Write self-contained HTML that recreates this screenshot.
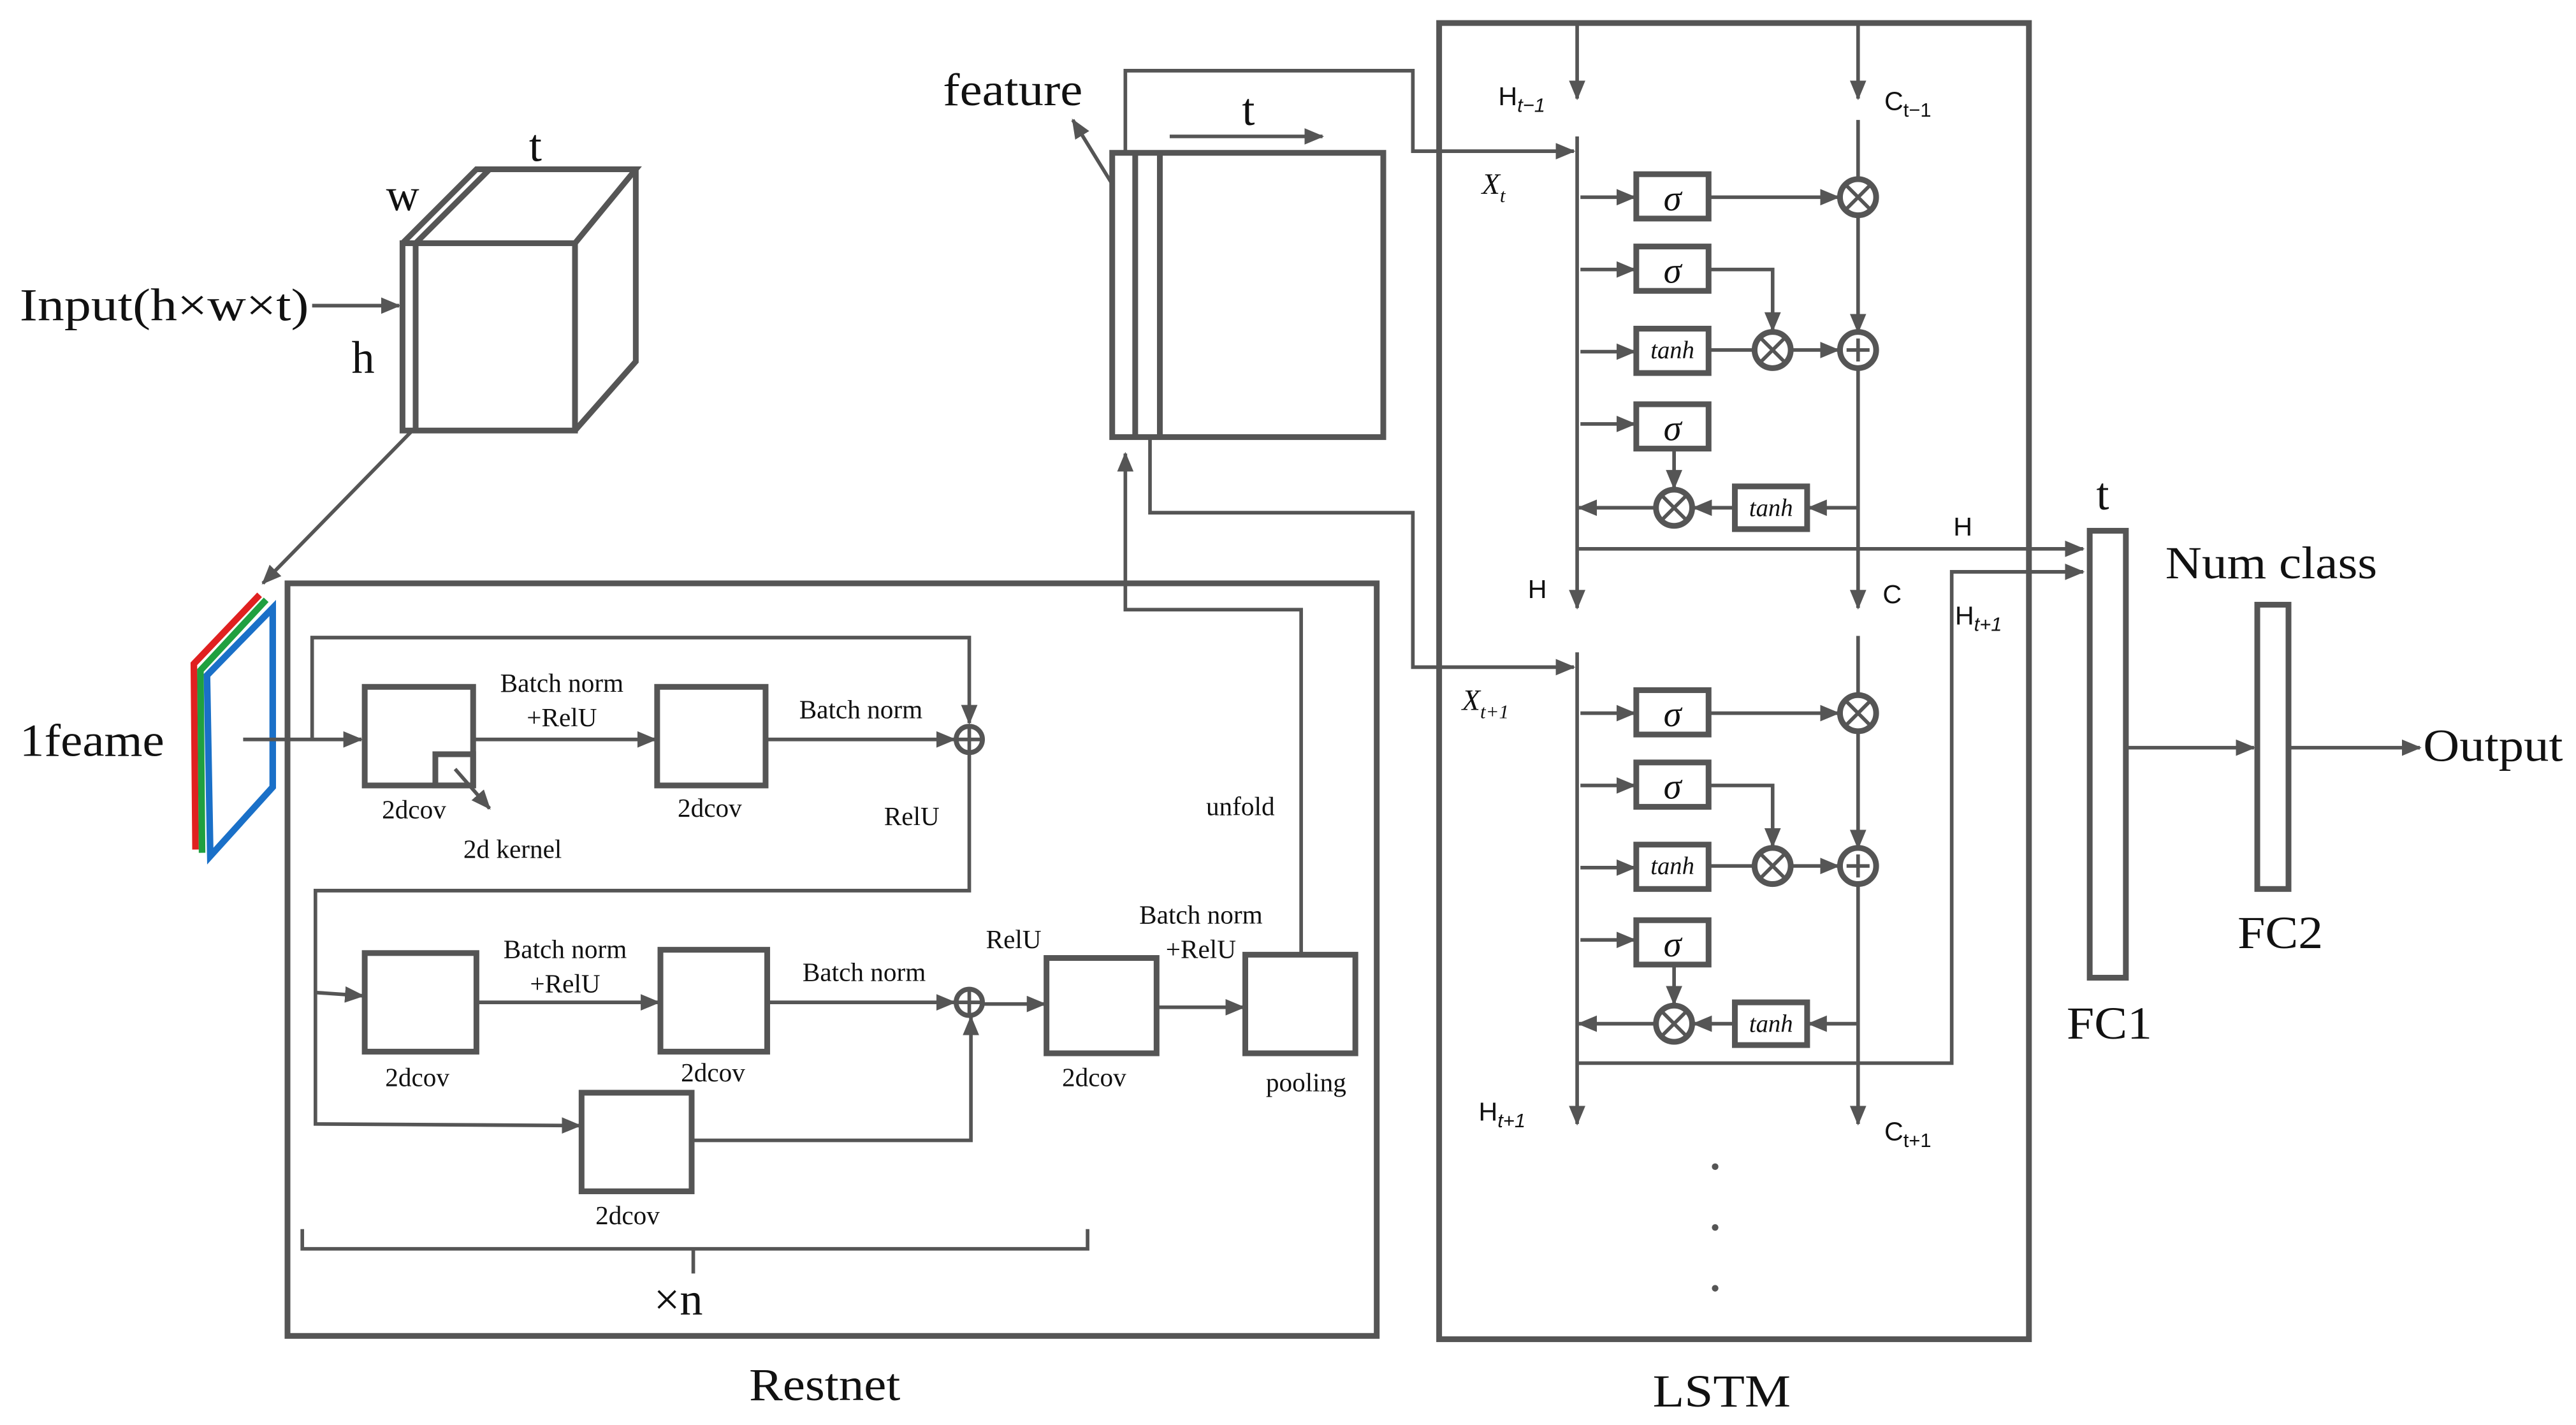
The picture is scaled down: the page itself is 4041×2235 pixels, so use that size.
<!DOCTYPE html>
<html><head><meta charset="utf-8"><style>
html,body{margin:0;padding:0;background:#fff;}
svg{display:block;}
text{font-family:"Liberation Serif",serif;fill:#111;}
.s{font-family:"Liberation Sans",sans-serif;}
</style></head><body>
<svg width="4041" height="2235" viewBox="0 0 1568 867.2" xmlns="http://www.w3.org/2000/svg">
<defs>
<marker id="a" markerWidth="12" markerHeight="10" refX="11" refY="5" orient="auto" markerUnits="userSpaceOnUse">
<path d="M0,0 L12,5 L0,10 Z" fill="#555"/></marker>
</defs>
<g fill="none" stroke="#555" stroke-width="2.2">
<line x1="190" y1="186" x2="243" y2="186" marker-end="url(#a)"/>
<g stroke-width="3.5">
<rect x="245" y="148" width="105" height="114"/>
<line x1="253" y1="148" x2="253" y2="262"/>
<polyline points="245,148 290,103 387,103 350,148"/>
<line x1="253" y1="148" x2="298" y2="103"/>
<polyline points="387,103 387,220 350,262"/>
</g>
<line x1="250" y1="263" x2="160" y2="355" marker-end="url(#a)"/>
<polyline points="119,517 118,404 158,362" stroke="#e02020" stroke-width="4"/>
<polyline points="123,519 122,408 162,365" stroke="#20a040" stroke-width="4"/>
<polygon points="126,411 166,370 166,479 128,521" stroke="#1a70c8" stroke-width="4"/>
<line x1="148" y1="450" x2="220" y2="450" marker-end="url(#a)"/>
<rect x="175" y="355" width="663" height="458" stroke-width="3.5"/>
<polyline points="190,450 190,388 590,388 590,440" marker-end="url(#a)"/>
<g stroke-width="3.5">
<rect x="222" y="418" width="66" height="60"/>
<rect x="265" y="459" width="23" height="19"/>
<rect x="400" y="418" width="66" height="60"/>
<rect x="222" y="580" width="68" height="60"/>
<rect x="402" y="578" width="65" height="62"/>
<rect x="637" y="583" width="67" height="58"/>
<rect x="758" y="581" width="67" height="60"/>
<rect x="354" y="665" width="67" height="60"/>
</g>
<line x1="277" y1="468" x2="298" y2="492" marker-end="url(#a)"/>
<line x1="288" y1="450" x2="399" y2="450" marker-end="url(#a)"/>
<line x1="466" y1="450" x2="581" y2="450" marker-end="url(#a)"/>
<circle cx="590" cy="450" r="8" stroke-width="3"/>
<line x1="583" y1="450" x2="597" y2="450"/><line x1="590" y1="443" x2="590" y2="457"/>
<polyline points="590,458 590,542 192,542 192,684 353,685" marker-end="url(#a)"/>
<line x1="192" y1="604" x2="221" y2="606" marker-end="url(#a)"/>
<line x1="290" y1="610" x2="401" y2="610" marker-end="url(#a)"/>
<line x1="467" y1="610" x2="581" y2="610" marker-end="url(#a)"/>
<circle cx="590" cy="610" r="8" stroke-width="3"/>
<line x1="583" y1="610" x2="597" y2="610"/><line x1="590" y1="603" x2="590" y2="617"/>
<polyline points="421,694 591,694 591,619" marker-end="url(#a)"/>
<line x1="598" y1="611" x2="636" y2="611" marker-end="url(#a)"/>
<line x1="704" y1="613" x2="757" y2="613" marker-end="url(#a)"/>
<polyline points="792,581 792,371 685,371 685,276" marker-end="url(#a)"/>
<path d="M184,748 V760 H662 V748 M422,760 V775"/>
<g stroke-width="3.5">
<rect x="677" y="93" width="165" height="173"/>
<line x1="691" y1="93" x2="691" y2="266"/>
<line x1="706" y1="93" x2="706" y2="266"/>
</g>
<line x1="712" y1="83" x2="805" y2="83" marker-end="url(#a)"/>
<line x1="677" y1="112" x2="653" y2="73" marker-end="url(#a)"/>
<polyline points="685,93 685,43 860,43 860,92 958,92" marker-end="url(#a)"/>
<polyline points="700,266 700,312 860,312 860,406 958,406" marker-end="url(#a)"/>
<rect x="876" y="14" width="359" height="801" stroke-width="3.5"/>
<line x1="960" y1="14" x2="960" y2="60" marker-end="url(#a)"/>
<line x1="1131" y1="14" x2="1131" y2="60" marker-end="url(#a)"/>
<g id="cell">
<line x1="960" y1="83" x2="960" y2="370" marker-end="url(#a)"/>
<line x1="1131" y1="73" x2="1131" y2="109"/>
<line x1="1131" y1="131" x2="1131" y2="202" marker-end="url(#a)"/>
<line x1="1131" y1="224" x2="1131" y2="370" marker-end="url(#a)"/>
<g stroke-width="3.5">
<rect x="996" y="106" width="44" height="27"/>
<rect x="996" y="150" width="44" height="27"/>
<rect x="996" y="200" width="44" height="27"/>
<rect x="996" y="246" width="44" height="27"/>
<rect x="1056" y="296" width="44" height="26"/>
<circle cx="1131" cy="120" r="11"/>
<circle cx="1079" cy="213" r="11"/>
<circle cx="1131" cy="213" r="11"/>
<circle cx="1019" cy="309" r="11"/>
</g>
<path d="M1124,113 L1138,127 M1138,113 L1124,127 M1072,206 L1086,220 M1086,206 L1072,220 M1012,302 L1026,316 M1026,302 L1012,316 M1124,213 H1138 M1131,206 V220"/>
<line x1="962" y1="120" x2="995" y2="120" marker-end="url(#a)"/>
<line x1="962" y1="164" x2="995" y2="164" marker-end="url(#a)"/>
<line x1="962" y1="214" x2="995" y2="214" marker-end="url(#a)"/>
<line x1="962" y1="258" x2="995" y2="258" marker-end="url(#a)"/>
<line x1="1040" y1="120" x2="1119" y2="120" marker-end="url(#a)"/>
<polyline points="1040,164 1079,164 1079,201" marker-end="url(#a)"/>
<line x1="1040" y1="213" x2="1067" y2="213"/>
<line x1="1090" y1="213" x2="1119" y2="213" marker-end="url(#a)"/>
<line x1="1019" y1="273" x2="1019" y2="297" marker-end="url(#a)"/>
<line x1="1131" y1="309" x2="1101" y2="309" marker-end="url(#a)"/>
<line x1="1056" y1="309" x2="1031" y2="309" marker-end="url(#a)"/>
<line x1="1008" y1="309" x2="961" y2="309" marker-end="url(#a)"/>
</g>
<use href="#cell" transform="translate(0,314)"/>
<line x1="960" y1="334" x2="1268" y2="334" marker-end="url(#a)"/>
<polyline points="960,647 1188,647 1188,348 1268,348" marker-end="url(#a)"/>
<rect x="1272" y="323" width="22" height="272" stroke-width="3.5"/>
<rect x="1374" y="368" width="19" height="173" stroke-width="3.5"/>
<line x1="1294" y1="455" x2="1372" y2="455" marker-end="url(#a)"/>
<line x1="1393" y1="455" x2="1473" y2="455" marker-end="url(#a)"/>
</g>
<g fill="#555"><circle cx="1044" cy="710" r="2"/><circle cx="1044" cy="747" r="2"/><circle cx="1044" cy="784" r="2"/></g>
<g font-size="28">
<text x="12" y="195" textLength="176" lengthAdjust="spacingAndGlyphs">Input(h×w×t)</text>
<text x="322" y="98">t</text>
<text x="235" y="128">w</text>
<text x="214" y="227">h</text>
<text x="12" y="460" textLength="88" lengthAdjust="spacingAndGlyphs">1feame</text>
<text x="574" y="64" textLength="85" lengthAdjust="spacingAndGlyphs">feature</text>
<text x="756" y="76">t</text>
<text x="398" y="800">×n</text>
<text x="456" y="852" textLength="92" lengthAdjust="spacingAndGlyphs">Restnet</text>
<text x="1006" y="856" textLength="84" lengthAdjust="spacingAndGlyphs">LSTM</text>
<text x="1276" y="310">t</text>
<text x="1318" y="352" textLength="129" lengthAdjust="spacingAndGlyphs">Num class</text>
<text x="1258" y="632" textLength="52" lengthAdjust="spacingAndGlyphs">FC1</text>
<text x="1362" y="577" textLength="52" lengthAdjust="spacingAndGlyphs">FC2</text>
<text x="1475" y="463" textLength="85" lengthAdjust="spacingAndGlyphs">Output</text>
</g>
<g font-size="16" text-anchor="middle">
<text x="342" y="421">Batch norm</text><text x="342" y="442">+RelU</text>
<text x="524" y="437">Batch norm</text>
<text x="252" y="498">2dcov</text><text x="312" y="522">2d kernel</text>
<text x="432" y="497">2dcov</text>
<text x="555" y="502">RelU</text>
<text x="755" y="496">unfold</text>
<text x="344" y="583">Batch norm</text><text x="344" y="604">+RelU</text>
<text x="526" y="597">Batch norm</text>
<text x="617" y="577">RelU</text>
<text x="731" y="562">Batch norm</text><text x="731" y="583">+RelU</text>
<text x="254" y="661">2dcov</text><text x="434" y="658">2dcov</text>
<text x="666" y="661">2dcov</text><text x="795" y="664">pooling</text>
<text x="382" y="745">2dcov</text>
</g>
<g font-size="22" text-anchor="middle" font-style="italic">
<text x="1018" y="128">σ</text><text x="1018" y="172">σ</text><text x="1018" y="268">σ</text>
<text x="1018" y="442">σ</text><text x="1018" y="486">σ</text><text x="1018" y="582">σ</text>
</g>
<g font-size="15" text-anchor="middle" font-style="italic">
<text x="1018" y="218">tanh</text><text x="1078" y="314">tanh</text>
<text x="1018" y="532">tanh</text><text x="1078" y="628">tanh</text>
</g>
<g class="s" font-size="16">
<text class="s" x="912" y="64">H<tspan font-size="12" font-style="italic" dy="4">t−1</tspan></text>
<text class="s" x="1147" y="67">C<tspan font-size="12" dy="4">t−1</tspan></text>
<text x="902" y="118" font-style="italic" font-size="18">X<tspan font-size="12" dy="5">t</tspan></text>
<text x="890" y="432" font-style="italic" font-size="18">X<tspan font-size="12" dy="5">t+1</tspan></text>
<text class="s" x="930" y="364">H</text>
<text class="s" x="1146" y="367">C</text>
<text class="s" x="1189" y="326">H</text>
<text class="s" x="1190" y="380">H<tspan font-size="12" font-style="italic" dy="4">t+1</tspan></text>
<text class="s" x="900" y="682">H<tspan font-size="12" font-style="italic" dy="4">t+1</tspan></text>
<text class="s" x="1147" y="694">C<tspan font-size="12" dy="4">t+1</tspan></text>
</g>
</svg>
</body></html>
